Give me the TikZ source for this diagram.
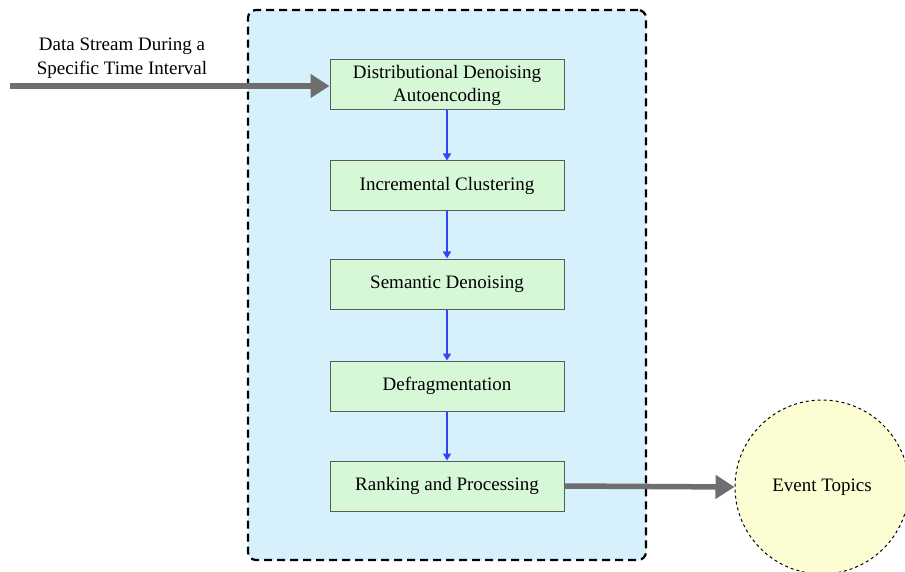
\documentclass[tikz,border=0pt]{standalone}
\usepackage{fontspec}
\setmainfont{Liberation Serif}
\usetikzlibrary{arrows.meta}
\definecolor{panelblue}{HTML}{D6F1FC}
\definecolor{boxgreen}{HTML}{D7F8D7}
\definecolor{boxedge}{HTML}{5A5A5A}
\definecolor{flowblue}{HTML}{3344F5}
\definecolor{biggray}{HTML}{6E6E6E}
\definecolor{topicyellow}{HTML}{FDFDD3}
\tikzset{
  stagebox/.style={draw=boxedge, fill=boxgreen, line width=1pt, minimum width=234pt, minimum height=50pt, inner sep=0pt, align=center, font=\fontsize{19}{23}\selectfont},
  flowarrow/.style={draw=flowblue, line width=1.6pt, -{Triangle[length=7pt,width=8pt]}},
  bigarrow/.style={draw=biggray, line width=5.5pt, -{Triangle[length=19pt,width=23pt]}},
  labeltext/.style={align=center, font=\fontsize{19}{24}\selectfont, inner sep=0pt},
}
\begin{document}
\begin{tikzpicture}[x=1pt,y=-1pt]
\useasboundingbox (0,0) rectangle (905,572);
\node[draw=black, fill=panelblue, dash pattern=on 8pt off 5pt, line width=2.2pt, rounded corners=8pt, minimum width=398pt, minimum height=550pt, inner sep=0pt] (panel) at (447,285) {};
\node[stagebox] (s1) at (447,85) {Distributional Denoising\\Autoencoding};
\node[stagebox] (s2) at (447,186) {Incremental Clustering};
\node[stagebox] (s3) at (447,284) {Semantic Denoising};
\node[stagebox] (s4) at (447,386) {Defragmentation};
\node[stagebox] (s5) at (447,486) {Ranking and Processing};
\node[circle, draw=black, dashed, line width=1pt, fill=topicyellow, minimum size=174pt, inner sep=0pt, font=\fontsize{19}{23}\selectfont] (topics) at (822,487) {Event Topics};
\node[labeltext] (inlabel) at (122,58) {Data Stream During a\\Specific Time Interval};
\coordinate (src) at (10,86);
\draw[flowarrow] (s1) -- (s2);
\draw[flowarrow] (s2) -- (s3);
\draw[flowarrow] (s3) -- (s4);
\draw[flowarrow] (s4) -- (s5);
\draw[bigarrow] (src) -- (s1.west |- src);
\draw[bigarrow] (s5.east) -- (topics.west);
\end{tikzpicture}
\end{document}
